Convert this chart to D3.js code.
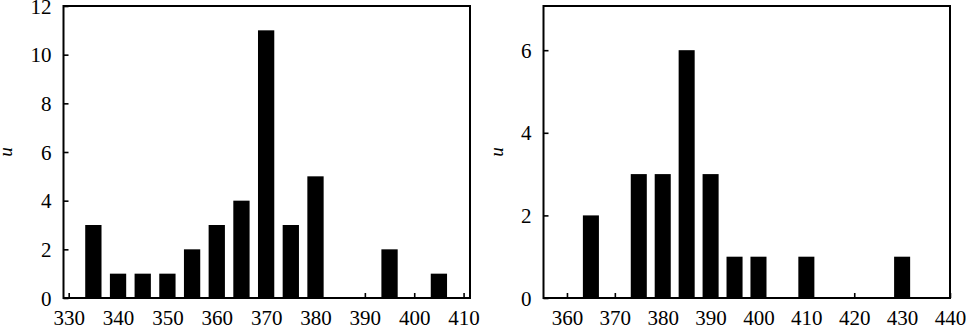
<!DOCTYPE html>
<html><head><meta charset="utf-8">
<script src="https://cdn.jsdelivr.net/npm/d3@7"></script>
<style>
html,body{margin:0;padding:0;background:#fff;}
svg{display:block;}
text{font-family:"Liberation Serif","Times New Roman",serif;fill:#000;}
</style></head>
<body>
<svg id="chart" width="966" height="328"></svg>
<script>
// Panel (a)
const leftCategories = [335, 340, 345, 350, 355, 360, 365, 370, 375, 380, 395, 405];
const leftValues     = [3, 1, 1, 1, 2, 3, 4, 11, 3, 5, 2, 1];
const leftXTicks = [330, 340, 350, 360, 370, 380, 390, 400, 410];
const leftYTicks = [0, 2, 4, 6, 8, 10, 12];

// Panel (b)
const rightCategories = [365, 375, 380, 385, 390, 395, 400, 410, 430];
const rightValues     = [2, 3, 3, 6, 3, 1, 1, 1, 1];
const rightXTicks = [360, 370, 380, 390, 400, 410, 420, 430, 440];
const rightYTicks = [0, 2, 4, 6];

const yLabel = "u";

const svg = d3.select("#chart");
const FONT = 21;
const FAMILY = '"Liberation Serif", "Times New Roman", serif';

function panel(cfg) {
  const x = d3.scaleLinear().domain(cfg.xDomain).range([cfg.left, cfg.right]);
  const y = d3.scaleLinear().domain(cfg.yDomain).range([cfg.bottom, cfg.top]);
  const g = svg.append("g");

  // bars
  g.selectAll("rect.bar").data(cfg.cats.map((c, i) => ({c, v: cfg.vals[i]})))
    .enter().append("rect").attr("class", "bar")
    .attr("x", d => x(d.c - cfg.barW / 2))
    .attr("width", d => x(d.c + cfg.barW / 2) - x(d.c - cfg.barW / 2))
    .attr("y", d => y(d.v))
    .attr("height", d => y(0) - y(d.v))
    .attr("fill", "#000");

  // x axis ticks (inward) and labels
  const xAxis = d3.axisBottom(x).tickValues(cfg.xTicks).tickFormat(d3.format("d"))
    .tickSizeInner(-5).tickSizeOuter(0);
  const gx = g.append("g").attr("transform", `translate(0,${cfg.bottom})`).call(xAxis)
    .attr("font-family", FAMILY).attr("font-size", FONT);
  gx.select(".domain").remove();
  gx.selectAll(".tick line").attr("stroke", "#000").attr("stroke-width", 1.6);
  gx.selectAll(".tick text").attr("dy", null).attr("y", 26.5);

  const yAxis = d3.axisLeft(y).tickValues(cfg.yTicks).tickFormat(d3.format("d"))
    .tickSizeInner(-5).tickSizeOuter(0);
  const gy = g.append("g").attr("transform", `translate(${cfg.left},0)`).call(yAxis)
    .attr("font-family", FAMILY).attr("font-size", FONT);
  gy.select(".domain").remove();
  gy.selectAll(".tick line").attr("stroke", "#000").attr("stroke-width", 1.6);
  gy.selectAll(".tick text").attr("x", -12).attr("dy", "0.34em");

  // frame
  g.append("rect").attr("x", cfg.left).attr("y", cfg.top)
    .attr("width", cfg.right - cfg.left).attr("height", cfg.bottom - cfg.top)
    .attr("fill", "none").attr("stroke", "#000").attr("stroke-width", 2);

  // y label
  g.append("text").attr("transform", `translate(${cfg.labelX},${(cfg.top + cfg.bottom) / 2}) rotate(-90)`)
    .attr("text-anchor", "middle").attr("font-size", 19).attr("font-style", "italic")
    .attr("font-family", FAMILY)
    .text(yLabel);
}

panel({
  cats: leftCategories, vals: leftValues, xTicks: leftXTicks, yTicks: leftYTicks,
  xDomain: [328.95, 411.3], yDomain: [0, 12],
  left: 63.5, right: 470, top: 6, bottom: 298, barW: 3.3, labelX: 12
});
panel({
  cats: rightCategories, vals: rightValues, xTicks: rightXTicks, yTicks: rightYTicks,
  xDomain: [355.1, 440], yDomain: [0, 7.07],
  left: 543.5, right: 950, top: 6, bottom: 298, barW: 3.35, labelX: 503
});
</script>
</body></html>
